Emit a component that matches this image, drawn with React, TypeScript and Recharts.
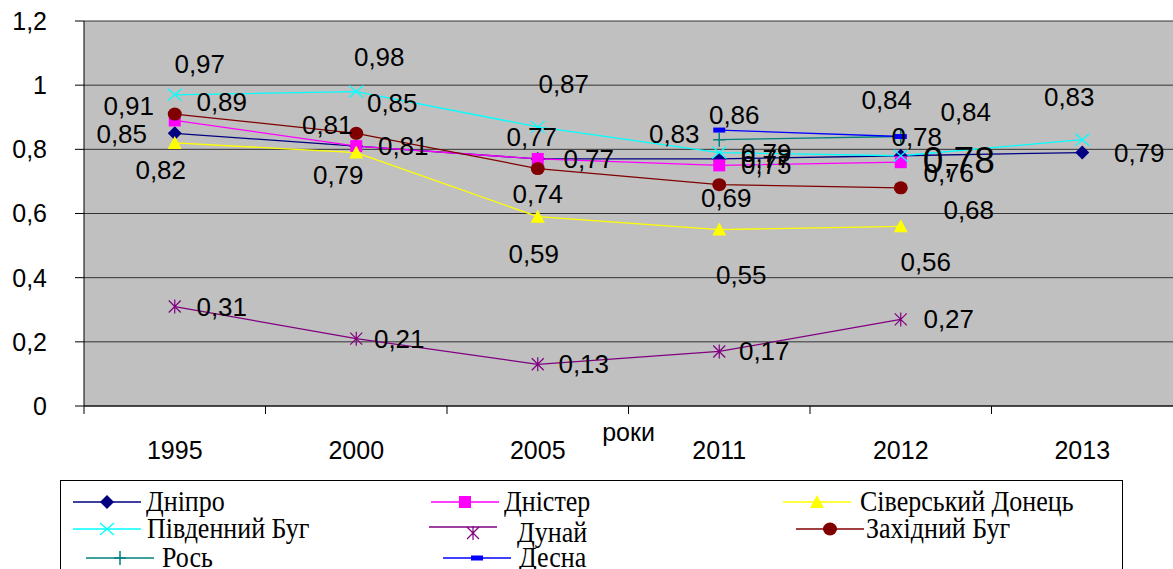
import { LineChart, Line, XAxis, YAxis, CartesianGrid, LabelList } from "recharts";

const years = ["1995", "2000", "2005", "2011", "2012", "2013"];
const dnipro = [0.85, 0.81, 0.77, 0.77, 0.78, 0.79];
const dnister = [0.89, 0.81, 0.77, 0.75, 0.76, null];
const siverskyiDonets = [0.82, 0.79, 0.59, 0.55, 0.56, null];
const pivdennyiBuh = [0.97, 0.98, 0.87, 0.79, 0.78, 0.83];
const dunai = [0.31, 0.21, 0.13, 0.17, 0.27, null];
const zakhidnyiBuh = [0.91, 0.85, 0.74, 0.69, 0.68, null];
const ros = [null, null, null, 0.83, 0.84, null];
const desna = [null, null, null, 0.86, 0.84, null];
const yTicks = [0, 0.2, 0.4, 0.6, 0.8, 1, 1.2];

const series = [
  { key: "dnipro", name: "Дніпро", color: "#000080", shape: "diamond", values: dnipro },
  { key: "dnister", name: "Дністер", color: "#ff00ff", shape: "square", values: dnister },
  { key: "siverskyiDonets", name: "Сіверський Донець", color: "#ffff00", shape: "triangle", values: siverskyiDonets },
  { key: "pivdennyiBuh", name: "Південний Буг", color: "#00ffff", shape: "x", values: pivdennyiBuh },
  { key: "dunai", name: "Дунай", color: "#800080", shape: "star", values: dunai },
  { key: "zakhidnyiBuh", name: "Західний Буг", color: "#800000", shape: "circle", values: zakhidnyiBuh },
  { key: "ros", name: "Рось", color: "#008080", shape: "plus", values: ros },
  { key: "desna", name: "Десна", color: "#0000ff", shape: "dash", values: desna },
];

// where each data label sits relative to its point (px), as in the original
const labelOffsets: Record<string, (number[] | null)[]> = {
  dnipro: [[-53, 1], [47, 0], [51, 0], [47, 0], [58, 5], [57, 0]],
  dnister: [[47, -18], [-29, -21], [-6, -22], [47, 0], [48, 11], null],
  siverskyiDonets: [[-14, 27], [-18, 22], [-4, 37], [22, 45], [25, 36], null],
  pivdennyiBuh: [[25, -31], [23, -35], [26, -43], [47, 0], [16, -19], [-13, -43]],
  dunai: [[47, 0], [43, 0], [46, 0], [45, 0], [48, 0], null],
  zakhidnyiBuh: [[-46, -8], [36, -30], [0, 25], [7, 13], [68, 22], null],
  ros: [null, null, null, [-45, -6], [65, -25], null],
  desna: [null, null, null, [15, -15], [-14, -37], null],
};

// legend item placement inside the legend box: icon left, row centre, gap to text, extra text drop
const legendLayout = [
  [12, 21, 5, 0], [370, 21, 5, 0], [722, 21, 9, 0],
  [12, 48, 6, 0], [368, 46, 20, 6], [735, 48, 2, 0],
  [25, 77, 8, 0], [382, 77, 8, 0],
];

const data = years.map((year, i) => {
  const row: Record<string, string | number | null> = { year };
  series.forEach(s => { row[s.key] = s.values[i]; });
  return row;
});

const W = 1173;
const H = 569;
const Y_AXIS_W = 84;
const band = (W - Y_AXIS_W) / years.length;
const fmt = (v: number) => String(v).replace(".", ",");

function Marker({ shape, color, cx, cy }: { shape: string; color: string; cx: number; cy: number }) {
  switch (shape) {
    case "diamond":
      return <polygon points={`${cx},${cy - 7} ${cx + 7},${cy} ${cx},${cy + 7} ${cx - 7},${cy}`} fill={color} />;
    case "square":
      return <rect x={cx - 6} y={cy - 6} width={12} height={12} fill={color} />;
    case "triangle":
      return <polygon points={`${cx},${cy - 7} ${cx + 7},${cy + 6} ${cx - 7},${cy + 6}`} fill={color} />;
    case "x":
      return <path d={`M${cx - 7},${cy - 6}L${cx + 7},${cy + 6}M${cx - 7},${cy + 6}L${cx + 7},${cy - 6}`} stroke={color} strokeWidth={1.3} fill="none" />;
    case "star":
      return <path d={`M${cx - 6},${cy - 6}L${cx + 6},${cy + 6}M${cx - 6},${cy + 6}L${cx + 6},${cy - 6}M${cx},${cy - 7}L${cx},${cy + 7}`} stroke={color} strokeWidth={1.2} fill="none" />;
    case "circle":
      return <ellipse cx={cx} cy={cy} rx={7} ry={6.5} fill={color} />;
    case "plus":
      return <path d={`M${cx - 6},${cy}L${cx + 6},${cy}M${cx},${cy - 7}L${cx},${cy + 7}`} stroke={color} strokeWidth={1.5} fill="none" />;
    case "dash":
      return <rect x={cx - 6} y={cy - 2.5} width={12} height={5} fill={color} />;
    default:
      return null;
  }
}

const makeDot = (shape: string, color: string) => (props: any) => {
  const { cx, cy, value, index } = props;
  if (value == null || cx == null || cy == null) return <g key={`d-${index}`} />;
  return <g key={`d-${index}`}><Marker shape={shape} color={color} cx={cx} cy={cy} /></g>;
};

const makeLabel = (key: string) => (props: any) => {
  const { value, index } = props;
  const x = props.x ?? props.viewBox?.x;
  const y = props.y ?? props.viewBox?.y;
  const off = labelOffsets[key][index];
  if (value == null || x == null || !off) return null;
  const big = key === "dnipro" && index === 4;
  return (
    <text x={x + off[0]} y={y + off[1]} textAnchor="middle" dominantBaseline="central"
      fontSize={big ? 37 : 26} fill="#000">
      {fmt(value)}
    </text>
  );
};

const XTick = (props: any) => {
  const { x, y, payload } = props;
  return (
    <g>
      <line x1={x - band / 2} x2={x - band / 2} y1={y} y2={y + 8} stroke="#000" />
      <text x={x} y={y + 44} textAnchor="middle" dominantBaseline="central" fontSize={25} fill="#000">
        {payload.value}
      </text>
    </g>
  );
};

export default function App() {
  return (
    <div style={{ position: "absolute", left: 0, top: 0, width: W, height: H, overflow: "hidden", background: "#fff" }}>
      <LineChart width={W} height={H} data={data} margin={{ top: 21, right: 0, left: 0, bottom: 103 }}
        style={{ fontFamily: "'Liberation Sans', Arial, sans-serif" }}>
        <CartesianGrid vertical={false} stroke="#333" fill="#c0c0c0" fillOpacity={1} />
        <XAxis dataKey="year" height={60} padding={{ left: band / 2, right: band / 2 }}
          axisLine={{ stroke: "#000" }} tickLine={false} tickSize={0} tickMargin={0} interval={0}
          tick={<XTick />}
          label={{ value: "роки", position: "insideTop", offset: 17, fontSize: 25, fill: "#000" }} />
        <YAxis width={Y_AXIS_W} domain={[0, 1.2]} ticks={yTicks} interval={0}
          axisLine={{ stroke: "#000" }} tickLine={{ stroke: "#000" }} tickSize={9} tickMargin={28}
          tick={{ fill: "#000", fontSize: 25 }} tickFormatter={fmt} />
        {series.map(s => (
          <Line key={s.key} dataKey={s.key} name={s.name} stroke={s.color} strokeWidth={1.3}
            dot={makeDot(s.shape, s.color)} activeDot={false} isAnimationActive={false}>
            <LabelList dataKey={s.key} content={makeLabel(s.key)} />
          </Line>
        ))}
      </LineChart>
      <div style={{ position: "absolute", left: 60, top: 480, width: 1063, height: 120, border: "1px solid #000",
        boxSizing: "border-box", background: "#fff", fontFamily: "'Liberation Serif', 'Times New Roman', serif" }}>
        {series.map((s, i) => {
          const [left, cy, gap, drop] = legendLayout[i];
          return (
            <div key={s.key} style={{ position: "absolute", left, top: cy - 12, height: 24, display: "flex", alignItems: "center" }}>
              <svg width={68} height={24} style={{ overflow: "visible" }}>
                <line x1={0} x2={68} y1={12} y2={12} stroke={s.color} strokeWidth={1.5} />
                <Marker shape={s.shape} color={s.color} cx={s.shape === "star" ? 44 : 34} cy={12 + drop} />
              </svg>
              <span style={{ display: "inline-block", fontSize: 26, lineHeight: "24px", marginLeft: gap,
                position: "relative", top: drop, whiteSpace: "nowrap", transform: "scaleY(1.12)" }}>{s.name}</span>
            </div>
          );
        })}
      </div>
    </div>
  );
}
